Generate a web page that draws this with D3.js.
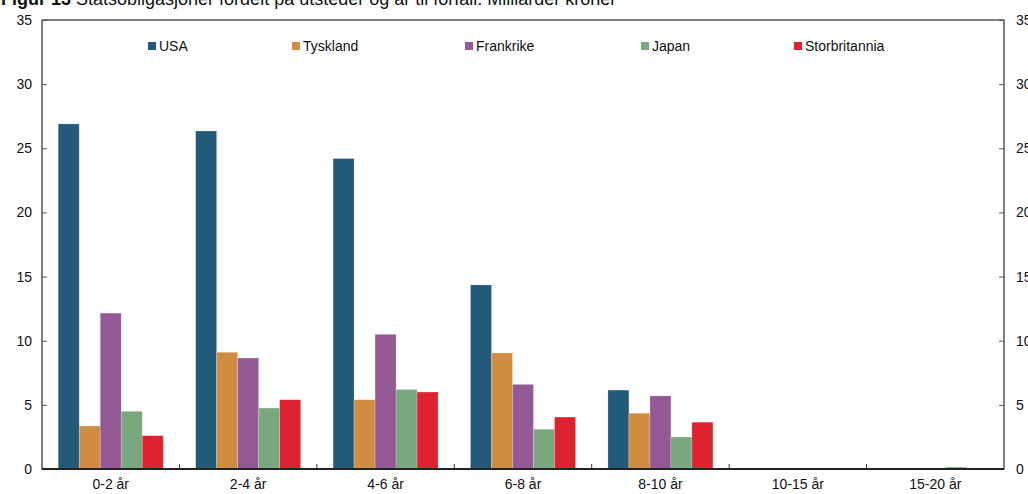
<!DOCTYPE html>
<html>
<head>
<meta charset="utf-8">
<script src="https://cdn.jsdelivr.net/npm/d3@7"></script>
<style>
  body { margin: 0; background: #fff; }
  text { font-family: "Liberation Sans", Arial, sans-serif; fill: #111; }
</style>
</head>
<body>
<div class="chart"></div>
<script>
// Data
const categories = ["0-2 år", "2-4 år", "4-6 år", "6-8 år", "8-10 år", "10-15 år", "15-20 år"];
const seriesNames = ["USA", "Tyskland", "Frankrike", "Japan", "Storbritannia"];
const usa = [26.9, 26.35, 24.2, 14.35, 6.15, 0, 0];
const tyskland = [3.35, 9.1, 5.4, 9.05, 4.35, 0, 0];
const frankrike = [12.15, 8.65, 10.5, 6.6, 5.7, 0, 0];
const japan = [4.5, 4.75, 6.2, 3.1, 2.5, 0, 0.15];
const storbritannia = [2.6, 5.4, 6.0, 4.05, 3.65, 0, 0];
const yTicks = [0, 5, 10, 15, 20, 25, 30, 35];
const colors = ["#235a7a", "#d08c40", "#955a96", "#79a77e", "#df222f"];

const allSeries = [usa, tyskland, frankrike, japan, storbritannia];

const svgWidth = 1028;
const svgHeight = 494;
const chartMargin = { top: 20, right: 24, bottom: 25, left: 42 };
const width = svgWidth - chartMargin.left - chartMargin.right;
const height = svgHeight - chartMargin.top - chartMargin.bottom;

const svg = d3.select(".chart")
    .append("svg")
    .attr("width", svgWidth)
    .attr("height", svgHeight);

// Title (cut off at the top in the original)
const title = svg.append("text")
    .attr("x", 1)
    .attr("y", 5)
    .attr("font-size", "18px");
title.append("tspan").attr("font-weight", "bold").text("Figur 13 ");
title.append("tspan").text("Statsobligasjoner fordelt på utsteder og år til forfall. Milliarder kroner");

const chartGroup = svg.append("g")
    .attr("transform", `translate(${chartMargin.left}, ${chartMargin.top})`);

const x0 = d3.scaleBand()
    .domain(categories)
    .range([0, width])
    .paddingInner(0.236)
    .paddingOuter(0.118);

const x1 = d3.scaleBand()
    .domain(seriesNames)
    .range([0, x0.bandwidth()]);

const y = d3.scaleLinear()
    .domain([0, 35])
    .range([height, 0]);

// Bars
const groups = chartGroup.selectAll(".group")
    .data(categories)
    .enter()
    .append("g")
    .attr("transform", d => `translate(${x0(d)}, 0)`);

groups.selectAll("rect")
    .data((c, i) => seriesNames.map((s, j) => ({ s: s, v: allSeries[j][i], j: j })))
    .enter()
    .append("rect")
    .attr("x", d => x1(d.s))
    .attr("width", x1.bandwidth())
    .attr("y", d => y(d.v))
    .attr("height", d => y(0) - y(d.v))
    .attr("fill", d => colors[d.j])
    .attr("stroke", "#fff")
    .attr("stroke-opacity", 0.35)
    .attr("stroke-width", 0.6);

// Frame
chartGroup.append("rect")
    .attr("x", 0)
    .attr("y", 0)
    .attr("width", width)
    .attr("height", height)
    .attr("fill", "none")
    .attr("stroke", "#000")
    .attr("stroke-width", 1);

// Left axis
const yAxisLeft = d3.axisLeft(y).tickValues(yTicks).tickSizeInner(-5).tickSizeOuter(0).tickPadding(10);
chartGroup.append("g")
    .call(yAxisLeft)
    .call(g => g.select(".domain").remove())
    .call(g => g.selectAll("line").attr("stroke", "#555"))
    .call(g => g.selectAll("text").attr("font-size", "14px").attr("font-family", "Liberation Sans, Arial, sans-serif"));

// Right axis
const yAxisRight = d3.axisRight(y).tickValues(yTicks).tickSizeInner(-5).tickSizeOuter(0).tickPadding(12);
chartGroup.append("g")
    .attr("transform", `translate(${width}, 0)`)
    .call(yAxisRight)
    .call(g => g.select(".domain").remove())
    .call(g => g.selectAll("line").attr("stroke", "#555"))
    .call(g => g.selectAll("text").attr("font-size", "14px").attr("font-family", "Liberation Sans, Arial, sans-serif"));

// Bottom axis: ticks between categories, pointing up
const xAxis = d3.axisBottom(x0).tickSize(0).tickPadding(10);
chartGroup.append("g")
    .attr("transform", `translate(0, ${height})`)
    .call(xAxis)
    .call(g => g.select(".domain").remove())
    .call(g => g.selectAll("text").attr("font-size", "14px").attr("font-family", "Liberation Sans, Arial, sans-serif"));

const step = x0.step();
chartGroup.selectAll(".xsep")
    .data(categories.slice(1))
    .enter()
    .append("line")
    .attr("x1", (d, i) => x0(d) - step * x0.paddingInner() / 2)
    .attr("x2", (d, i) => x0(d) - step * x0.paddingInner() / 2)
    .attr("y1", height)
    .attr("y2", height - 5)
    .attr("stroke", "#333");

chartGroup.append("line")
    .attr("x1", 0)
    .attr("x2", width)
    .attr("y1", height)
    .attr("y2", height)
    .attr("stroke", "#222")
    .attr("stroke-width", 2);

// Legend
const legendX = [106, 250, 423, 599, 752];
const legend = chartGroup.selectAll(".legend")
    .data(seriesNames)
    .enter()
    .append("g")
    .attr("transform", (d, i) => `translate(${legendX[i]}, 26)`);

legend.append("rect")
    .attr("x", 0)
    .attr("y", -4)
    .attr("width", 8)
    .attr("height", 8)
    .attr("fill", (d, i) => colors[i]);

legend.append("text")
    .attr("x", 11)
    .attr("y", 5)
    .attr("font-size", "14px")
    .text(d => d);
</script>
</body>
</html>
